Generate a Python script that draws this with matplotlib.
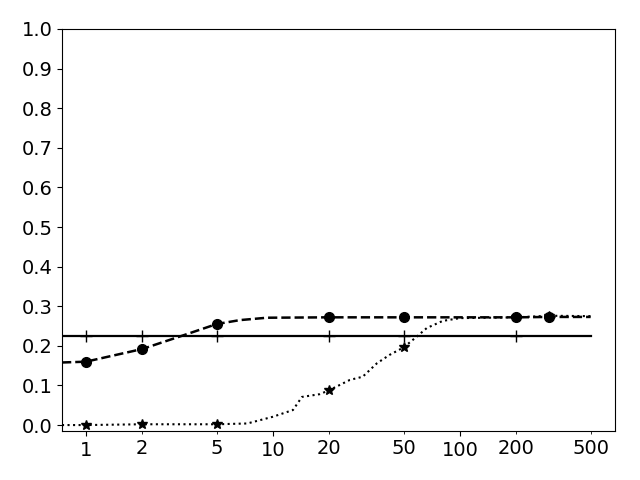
import matplotlib
matplotlib.use("Agg")
import matplotlib.pyplot as plt
from matplotlib.ticker import FixedLocator, FixedFormatter

# Data
solid_x = [0.745, 500]
solid_y = [0.226, 0.226]
solid_mx = [1, 2, 5, 20, 50, 200]
solid_my = [0.226, 0.226, 0.226, 0.226, 0.226, 0.226]

dash_x = [0.745, 1, 2, 3.34, 5, 6.66, 9.3, 20, 50, 200, 300, 500]
dash_y = [0.158, 0.160, 0.192, 0.227, 0.255, 0.265, 0.271, 0.272, 0.272, 0.272, 0.273, 0.273]
dash_mx = [1, 2, 5, 20, 50, 200, 300]
dash_my = [0.160, 0.192, 0.255, 0.272, 0.272, 0.272, 0.273]

dot_x = [0.745, 1, 2, 5, 7.3, 10, 12.8, 14.3, 17.8, 20, 25.8, 30.2, 36, 42, 50,
         58.7, 66.5, 81, 100, 200, 300, 500]
dot_y = [0.0, 0.0, 0.002, 0.002, 0.004, 0.021, 0.038, 0.071, 0.078, 0.088, 0.114,
         0.122, 0.156, 0.177, 0.196, 0.223, 0.245, 0.263, 0.270, 0.272, 0.276, 0.275]
dot_mx = [1, 2, 5, 20, 50, 200, 300]
dot_my = [0.0, 0.002, 0.002, 0.088, 0.196, 0.272, 0.276]

major_ticks = [1, 10, 100]
major_labels = ["1", "10", "100"]
minor_ticks = [2, 5, 20, 50, 200, 500]
minor_labels = ["2", "5", "20", "50", "200", "500"]
y_ticks = [0.0, 0.1, 0.2, 0.3, 0.4, 0.5, 0.6, 0.7, 0.8, 0.9, 1.0]

fig = plt.figure(figsize=(6.4, 4.8), dpi=100)
ax = fig.add_axes([62/640, 1-431/480, (615-62)/640, (431-29)/480])

ax.plot(solid_x, solid_y, color="black", lw=1.6, ls="-")
ax.plot(solid_mx, solid_my, color="black", marker="+", ms=8, mew=1, ls="none")

ax.plot(dash_x, dash_y, color="black", lw=1.8, ls="--")
ax.plot(dash_mx, dash_my, color="black", marker="o", ms=7, ls="none")

ax.plot(dot_x, dot_y, color="black", lw=1.5, ls=":")
ax.plot(dot_mx, dot_my, color="black", marker="*", ms=7, ls="none")

ax.set_xscale("log")
ax.set_xlim(0.745, 675)
ax.set_ylim(-0.015, 1.0)
ax.xaxis.set_major_locator(FixedLocator(major_ticks))
ax.xaxis.set_major_formatter(FixedFormatter(major_labels))
ax.xaxis.set_minor_locator(FixedLocator(minor_ticks))
ax.xaxis.set_minor_formatter(FixedFormatter(minor_labels))
ax.set_yticks(y_ticks)
ax.set_yticklabels([f"{v:.1f}" for v in y_ticks])
ax.tick_params(axis="x", which="major", labelsize=14)
ax.tick_params(axis="x", which="minor", labelsize=14)
ax.tick_params(axis="y", labelsize=14)

fig.savefig("out.png", dpi=100)
